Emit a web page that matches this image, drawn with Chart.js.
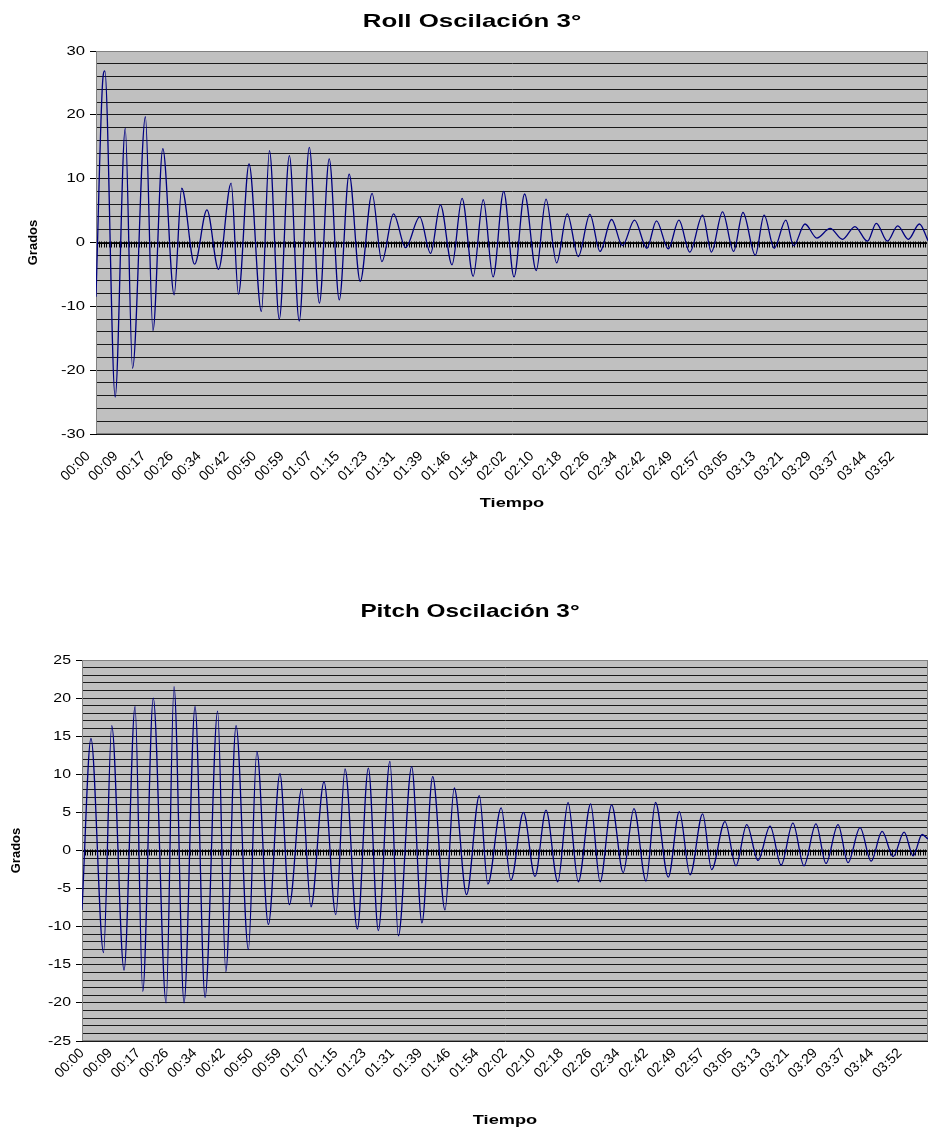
<!DOCTYPE html>
<html lang="es">
<head>
<meta charset="utf-8">
<title>Oscilación 3°</title>
<script src="https://cdn.jsdelivr.net/npm/chart.js@4.4.1/dist/chart.umd.min.js"></script>
<style>
    body { margin: 0; background: #fff; }
    .chart-box { position: absolute; left: 0; width: 928px; }
    #rollBox { top: 0; height: 530px; }
    #pitchBox { top: 590px; height: 543px; }
</style>
</head>
<body>
<div class="chart-box" id="rollBox"><canvas id="rollChart"></canvas></div>
<div class="chart-box" id="pitchBox"><canvas id="pitchChart"></canvas></div>
<script>
// Etiquetas del eje de tiempo (una cada 11 muestras)
const timeLabels = ['00:00', '00:09', '00:17', '00:26', '00:34', '00:42', '00:50', '00:59', '01:07', '01:15',
    '01:23', '01:31', '01:39', '01:46', '01:54', '02:02', '02:10', '02:18', '02:26', '02:34',
    '02:42', '02:49', '02:57', '03:05', '03:13', '03:21', '03:29', '03:37', '03:44', '03:52'];
const samplesPerLabel = 11;
const totalSamples = 330;

// Roll: posición de la muestra y grados (picos y valles)
const rollSample = [0, 2.6, 3.5, 7.6, 11.6, 14.5, 19.6, 22.6, 26.5, 31.0, 34.0, 39.1, 44.0, 48.6,
    53.6, 56.5, 60.7, 65.6, 68.8, 72.7, 76.7, 80.6, 84.6, 88.6, 92.5, 96.5, 100.4, 104.8,
    109.5, 113.4, 118.0, 122.8, 128.4, 132.7, 136.6, 141.2, 145.2, 149.6, 153.6, 157.5,
    161.7, 165.8, 170.0, 174.6, 178.5, 182.7, 186.9, 191.3, 195.9, 199.9, 204.5, 208.8,
    213.6, 218.5, 222.3, 227.0, 231.2, 235.5, 240.6, 244.1, 248.5, 252.9, 256.6, 261.5,
    265.0, 269.0, 273.6, 276.7, 281.2, 285.9, 291.2, 296.1, 301.0, 306.0, 309.5, 313.9,
    318.0, 322.2, 326.6, 330];
const rollDeg = [-8.5, 25.0, 26.9, -24.2, 17.9, -19.7, 19.7, -13.8, 14.7, -8.2, 8.5, -3.4, 5.1, -4.2,
    9.3, -8.1, 12.3, -10.8, 14.4, -12.0, 13.6, -12.3, 14.9, -9.5, 13.1, -9.0, 10.7, -6.1,
    7.7, -3.0, 4.5, -0.8, 4.0, -1.7, 5.9, -3.5, 6.9, -5.3, 6.7, -5.4,
    8.0, -5.4, 7.6, -4.4, 6.8, -3.2, 4.5, -2.2, 4.4, -1.4, 3.6, -0.5,
    3.5, -0.9, 3.4, -1.0, 3.5, -1.5, 4.3, -1.5, 4.8, -1.4, 4.7, -2.0,
    4.3, -0.9, 3.5, -0.5, 2.9, 0.7, 2.2, 0.5, 2.5, 0.2, 3.0, 0.2,
    2.6, 0.5, 2.9, 0.3];

// Pitch: posición de la muestra y grados
const pitchSample = [0, 3.5, 8.4, 11.6, 16.4, 20.7, 23.7, 27.8, 32.8, 35.9, 39.8, 44.1, 48.0,
    52.9, 56.1, 60.1, 64.9, 68.2, 72.7, 77.2, 80.9, 85.7, 89.3, 94.4, 99.0, 102.6, 107.4,
    111.7, 115.6, 120.1, 123.4, 128.6, 132.6, 136.8, 141.6, 145.2, 150.0, 155.0, 158.3,
    163.5, 167.3, 172.2, 176.7, 181.0, 185.6, 189.6, 193.6, 198.4, 202.1, 206.6, 211.1,
    215.3, 220.0, 223.7, 228.7, 233.0, 237.2, 242.1, 245.6, 250.8, 255.1, 259.3, 263.7,
    268.4, 272.7, 277.3, 281.6, 286.3, 290.2, 294.9, 298.8, 303.5, 307.8, 312.1, 316.4,
    320.7, 324.2, 327.7, 330];
const pitchDeg = [-7.8, 14.7, -13.4, 16.4, -15.7, 18.9, -18.5, 20.0, -20.0, 21.5, -20.0, 18.9, -19.3,
    18.3, -15.9, 16.4, -13.0, 13.0, -9.7, 10.1, -7.1, 8.1, -7.4, 9.0, -8.4, 10.7, -10.3,
    10.8, -10.5, 11.7, -11.2, 11.0, -9.5, 9.7, -7.8, 8.2, -5.8, 7.2, -4.4,
    5.6, -3.9, 5.0, -3.4, 5.3, -4.1, 6.3, -4.1, 6.1, -4.1, 6.0, -2.9,
    5.5, -4.0, 6.3, -3.5, 5.1, -3.2, 4.8, -2.5, 3.8, -2.0, 3.4, -1.3,
    3.2, -1.9, 3.6, -2.0, 3.5, -1.7, 3.4, -1.6, 3.0, -1.4, 2.5, -0.8,
    2.4, -0.7, 2.1, 1.5];

const fontFamily = '"Liberation Sans", Arial, sans-serif';
Chart.defaults.font.family = fontFamily;
Chart.defaults.color = '#000';

// Fondo gris del área de trazado y eje horizontal en el cero con sus marcas
const plotAreaPlugin = {
    id: 'plotArea',
    beforeDraw(chart) {
        const { ctx, chartArea: a } = chart;
        ctx.save();
        ctx.fillStyle = '#c0c0c0';
        ctx.fillRect(a.left, a.top, a.right - a.left, a.bottom - a.top);
        ctx.restore();
    },
    beforeDatasetsDraw(chart) {
        const { ctx, chartArea: a, scales: { x, y } } = chart;
        const y0 = Math.round(y.getPixelForValue(0)) + 0.5;
        ctx.save();
        ctx.strokeStyle = '#000';
        ctx.lineWidth = 1;
        ctx.beginPath();
        ctx.moveTo(a.left, y0);
        ctx.lineTo(a.right, y0);
        for (let i = x.min; i <= x.max; i++) {
            const px = Math.round(x.getPixelForValue(i)) + 0.5;
            ctx.moveTo(px, y0 - 2);
            ctx.lineTo(px, y0 + 4);
        }
        ctx.stroke();
        ctx.strokeStyle = '#808080';
        ctx.strokeRect(a.left + 0.5, a.top + 0.5, a.right - a.left - 1, a.bottom - a.top - 1);
        ctx.restore();
    }
};

// Textos horizontales ensanchados como en el original (título, eje X y valores del eje Y)
function wideText(ctx, text, x, y, stretch, align) {
    ctx.save();
    ctx.translate(x, y);
    ctx.scale(stretch, 1);
    ctx.textAlign = align;
    ctx.fillText(text, 0, 0);
    ctx.restore();
}

const chartTextPlugin = {
    id: 'chartText',
    afterDraw(chart, args, opts) {
        const { ctx, chartArea: a, scales: { y } } = chart;
        ctx.save();
        ctx.fillStyle = '#000';
        ctx.textBaseline = 'middle';
        ctx.font = 'bold 19px ' + fontFamily;
        wideText(ctx, opts.title, opts.titleX, opts.titleY, opts.titleStretch, 'center');
        ctx.font = 'bold 13px ' + fontFamily;
        wideText(ctx, opts.xTitle, (a.left + a.right) / 2, opts.xTitleY, opts.xTitleStretch, 'center');
        ctx.font = '13px ' + fontFamily;
        y.ticks.forEach((t) => {
            if (t.value % opts.major === 0) {
                wideText(ctx, String(t.value), a.left - 11, y.getPixelForValue(t.value), opts.labelStretch, 'right');
            }
        });
        ctx.restore();
    }
};

function buildChart(canvasId, cfg) {
    const points = cfg.samples.map((s, i) => ({ x: s, y: cfg.values[i] }));
    return new Chart(document.getElementById(canvasId), {
        type: 'line',
        data: {
            datasets: [{
                data: points,
                borderColor: '#000080',
                borderWidth: 1.3,
                pointRadius: 0,
                cubicInterpolationMode: 'monotone',
                fill: false
            }]
        },
        options: {
            responsive: true,
            maintainAspectRatio: false,
            animation: false,
            layout: { padding: { left: 0, right: 0, top: cfg.plotTop, bottom: 0 } },
            plugins: {
                legend: { display: false },
                tooltip: { enabled: false },
                chartText: {
                    title: cfg.title,
                    titleX: cfg.titleX,
                    titleY: 22,
                    titleStretch: cfg.titleStretch,
                    xTitle: 'Tiempo',
                    xTitleY: cfg.xTitleY,
                    xTitleStretch: 1.4,
                    labelStretch: cfg.labelStretch,
                    major: cfg.major
                }
            },
            scales: {
                x: {
                    type: 'linear',
                    min: 0,
                    max: totalSamples,
                    afterBuildTicks: (scale) => {
                        scale.ticks = timeLabels.map((t, i) => ({ value: i * samplesPerLabel }));
                    },
                    afterFit: (scale) => { scale.height = cfg.xHeight; },
                    grid: { display: false, drawTicks: false },
                    border: { display: false },
                    ticks: {
                        autoSkip: false,
                        maxRotation: 45,
                        minRotation: 45,
                        padding: cfg.labelPad,
                        labelOffset: cfg.labelShift,
                        font: { family: fontFamily, size: 14 },
                        callback: (value, index) => timeLabels[index]
                    }
                },
                y: {
                    min: cfg.yMin,
                    max: cfg.yMax,
                    afterFit: (scale) => { scale.width = cfg.yWidth; },
                    grid: {
                        color: '#1a1a1a',
                        lineWidth: 1,
                        tickLength: 6,
                        tickColor: (ctx) => ctx.tick && ctx.tick.value % cfg.major === 0 ? '#000' : 'rgba(0,0,0,0)'
                    },
                    border: { display: true, color: '#000', width: 1 },
                    ticks: {
                        display: false,
                        stepSize: cfg.minor,
                        autoSkip: false
                    },
                    title: {
                        display: true,
                        text: 'Grados',
                        font: { family: fontFamily, size: 13, weight: 'bold' },
                        padding: { top: cfg.yTitlePad, bottom: 0 }
                    }
                }
            }
        },
        plugins: [plotAreaPlugin, chartTextPlugin]
    });
}

document.addEventListener('DOMContentLoaded', () => {
    buildChart('rollChart', {
        title: 'Roll Oscilación 3°',
        titleX: 472,
        titleStretch: 1.36,
        labelStretch: 1.28,
        samples: rollSample,
        values: rollDeg,
        yMin: -30, yMax: 30, minor: 2, major: 10,
        plotTop: 51,
        xHeight: 96,
        xTitleY: 503,
        labelPad: 14,
        labelShift: -8,
        yWidth: 96,
        yTitlePad: 26
    });
    buildChart('pitchChart', {
        title: 'Pitch Oscilación 3°',
        titleX: 470,
        titleStretch: 1.28,
        labelStretch: 1.22,
        samples: pitchSample,
        values: pitchDeg,
        yMin: -25, yMax: 25, minor: 1, major: 5,
        plotTop: 70,
        xHeight: 92,
        xTitleY: 530,
        labelPad: 4,
        labelShift: 0,
        yWidth: 82,
        yTitlePad: 9
    });
});
</script>
</body>
</html>
